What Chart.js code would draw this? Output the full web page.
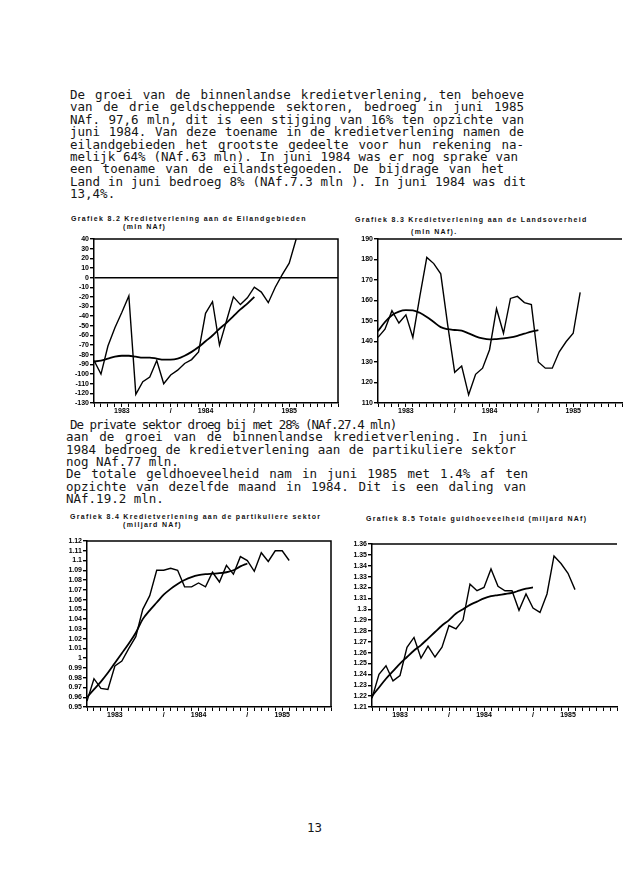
<!DOCTYPE html>
<html>
<head>
<meta charset="utf-8">
<script src="https://cdn.jsdelivr.net/npm/chart.js@4.4.0/dist/chart.umd.min.js"></script>
<style>
  html, body { margin: 0; padding: 0; background: #fff; }
  #page { position: relative; width: 630px; height: 880px; overflow: hidden; background: #fff; color: #161616; }
  .ln { position: absolute; font-family: 'DejaVu Sans Mono', monospace; font-size: 12.5px; line-height: 14px; white-space: pre; }
  .jf { white-space: nowrap; text-align: justify; text-align-last: justify; }
  .ttl { position: absolute; font-family: 'Liberation Sans', Arial, sans-serif; font-weight: bold; font-size: 7px; line-height: 8px; letter-spacing: 1.3px; white-space: pre; color: #111; }
  canvas { position: absolute; }
</style>
</head>
<body>
<div id="page">
  <!-- eerste alinea -->
  <div class="ln jf" style="left:70px;top:88px;width:454px">De groei van de binnenlandse kredietverlening, ten behoeve</div>
  <div class="ln jf" style="left:70px;top:100px;width:454px">van de drie geldscheppende sektoren, bedroeg in juni 1985</div>
  <div class="ln jf" style="left:70px;top:113px;width:454px">NAf. 97,6 mln, dit is een stijging van 16% ten opzichte van</div>
  <div class="ln jf" style="left:70px;top:125px;width:454px">juni 1984. Van deze toename in de kredietverlening namen de</div>
  <div class="ln jf" style="left:70px;top:138px;width:454px">eilandgebieden het grootste gedeelte voor hun rekening na-</div>
  <div class="ln jf" style="left:70px;top:150px;width:448px">melijk 64% (NAf.63 mln). In juni 1984 was er nog sprake van</div>
  <div class="ln jf" style="left:70px;top:162px;width:434px">een toename van de eilandstegoeden. De bijdrage van het</div>
  <div class="ln jf" style="left:70px;top:175px;width:456px">Land in juni bedroeg 8% (NAf.7.3 mln ). In juni 1984 was dit</div>
  <div class="ln" style="left:70px;top:187px">13,4%.</div>

  <!-- tweede alinea -->
  <div class="ln" style="left:70px;top:418px;letter-spacing:-1px">De private sektor droeg bij met 28% (NAf.27.4 mln)</div>
  <div class="ln jf" style="left:66px;top:430px;width:462px">aan de groei van de binnenlandse kredietverlening. In juni</div>
  <div class="ln jf" style="left:66px;top:443px;width:450px">1984 bedroeg de kredietverlening aan de partikuliere sektor</div>
  <div class="ln" style="left:66px;top:455px">nog NAf.77 mln.</div>
  <div class="ln jf" style="left:66px;top:467px;width:462px">De totale geldhoeveelheid nam in juni 1985 met 1.4% af ten</div>
  <div class="ln jf" style="left:66px;top:480px;width:460px">opzichte van dezelfde maand in 1984. Dit is een daling van</div>
  <div class="ln" style="left:66px;top:492px">NAf.19.2 mln.</div>

  <div class="ln" style="left:307px;top:821px">13</div>

  <!-- grafiektitels -->
  <div class="ttl" style="left:71px;top:215px">Grafiek 8.2 Kredietverlening aan de Eilandgebieden</div>
  <div class="ttl" style="left:123px;top:223px">(mln NAf)</div>
  <div class="ttl" style="left:355px;top:216px">Grafiek 8.3 Kredietverlening aan de Landsoverheid</div>
  <div class="ttl" style="left:411px;top:228px">(mln NAf).</div>
  <div class="ttl" style="left:70px;top:513px">Grafiek 8.4 Kredietverlening aan de partikuliere sektor</div>
  <div class="ttl" style="left:123px;top:521px">(miljard NAf)</div>
  <div class="ttl" style="left:366px;top:515px">Grafiek 8.5 Totale guldhoeveelheid (miljard NAf)</div>

  <canvas id="g82" width="290" height="185" style="left:55px;top:232px"></canvas>
  <canvas id="g83" width="290" height="185" style="left:340px;top:232px"></canvas>
  <canvas id="g84" width="290" height="188" style="left:50px;top:534px"></canvas>
  <canvas id="g85" width="295" height="185" style="left:335px;top:537px"></canvas>
</div>

<script>
// maanden op de x-as (jan 1983 - dec 1985)
const months = [
  'jan 1983','feb 1983','mrt 1983','apr 1983','mei 1983','jun 1983','jul 1983','aug 1983','sep 1983','okt 1983','nov 1983','dec 1983',
  'jan 1984','feb 1984','mrt 1984','apr 1984','mei 1984','jun 1984','jul 1984','aug 1984','sep 1984','okt 1984','nov 1984','dec 1984',
  'jan 1985','feb 1985','mrt 1985','apr 1985','mei 1985','jun 1985','jul 1985','aug 1985','sep 1985','okt 1985','nov 1985','dec 1985'
];
const yearTicks = [
  '', '', '', '', '1983', '', '', '', '', '', '', '/',
  '', '', '', '', '1984', '', '', '', '', '', '', '/',
  '', '', '', '', '1985', '', '', '', '', '', '', ''
];

// 8.2 Kredietverlening aan de Eilandgebieden (mln NAf)
const eilandMaand = [-86, -100, -71, -52, -36, -19, -121, -108, -103, -86, -110, -101, -96, -89, -85,
  -77, -37, -25, -70, -45, -20, -28, -21, -10, -15, -26, -10, 3, 15, 40];
const eilandTrend = [-87, -86, -84, -82, -81, -81, -82, -83, -83, -84, -85, -85, -84, -81, -77,
  -72, -66, -60, -53, -47, -40, -33, -27, -20];

// 8.3 Kredietverlening aan de Landsoverheid (mln NAf)
const landMaand = [142, 146, 155, 149, 153, 142, 162, 181, 178, 173, 148, 125, 128, 114, 124,
  127, 136, 156, 144, 161, 162, 159, 158, 130, 127, 127, 135, 140, 144, 164];
const landTrend = [145, 149.5, 152.8, 154.6, 155.3, 155.2, 154, 152, 149.5, 147, 146, 145.6, 145.3, 144, 142.5,
  141.5, 141, 141.2, 141.5, 142, 142.8, 143.8, 144.8, 145.5];

// 8.4 Kredietverlening aan de partikuliere sektor (miljard NAf)
const privMaand = [0.956, 0.979, 0.969, 0.968, 0.992, 0.997, 1.010, 1.022, 1.050, 1.064, 1.090, 1.090, 1.092, 1.090, 1.073,
  1.073, 1.077, 1.073, 1.088, 1.078, 1.095, 1.086, 1.104, 1.100, 1.089, 1.108, 1.099, 1.110, 1.110, 1.100];
const privTrend = [0.960, 0.968, 0.976, 0.985, 0.995, 1.005, 1.015, 1.026, 1.040, 1.049, 1.057, 1.065, 1.071, 1.076, 1.080,
  1.083, 1.085, 1.086, 1.0865, 1.087, 1.088, 1.090, 1.094, 1.097];

// 8.5 Totale geldhoeveelheid (miljard NAf)
const geldMaand = [1.218, 1.240, 1.248, 1.234, 1.239, 1.265, 1.274, 1.255, 1.266, 1.256, 1.265, 1.285, 1.282, 1.290, 1.323,
  1.317, 1.320, 1.337, 1.321, 1.317, 1.317, 1.299, 1.314, 1.301, 1.297, 1.314, 1.349, 1.342, 1.333, 1.318];
const geldTrend = [1.220, 1.228, 1.236, 1.243, 1.250, 1.256, 1.262, 1.267, 1.273, 1.279, 1.285, 1.290, 1.296, 1.300, 1.304,
  1.307, 1.310, 1.312, 1.313, 1.314, 1.315, 1.317, 1.319, 1.320];

const tickFont = { family: "'Liberation Sans', Arial, sans-serif", size: 7, weight: 'bold', lineHeight: 1 };

// kader rond het plotgebied (boven en rechts)
const framePlugin = {
  id: 'frame',
  afterDatasetsDraw(chart, args, opts) {
    const { ctx, chartArea: a } = chart;
    ctx.save();
    ctx.strokeStyle = '#000';
    ctx.lineWidth = 1.5;
    ctx.beginPath();
    ctx.moveTo(a.left, a.top);
    ctx.lineTo(a.right, a.top);
    if (opts.right) ctx.lineTo(a.right, a.bottom);
    ctx.stroke();
    ctx.restore();
  }
};

function makeChart(id, o) {
  return new Chart(document.getElementById(id), {
    type: 'line',
    data: {
      labels: months,
      datasets: [
        { data: o.maand, borderColor: '#000', borderWidth: 1.4, pointRadius: 0, tension: 0, fill: false },
        { data: o.trend, borderColor: '#000', borderWidth: 1.8, pointRadius: 0, cubicInterpolationMode: 'monotone', fill: false }
      ]
    },
    options: {
      responsive: false,
      animation: false,
      devicePixelRatio: 1,
      layout: { padding: { left: 0, top: 7, right: o.padRight, bottom: 0 } },
      plugins: {
        legend: { display: false },
        tooltip: { enabled: false },
        frame: { right: o.frameRight }
      },
      scales: {
        x: {
          offset: false,
          grid: { drawOnChartArea: false, tickLength: 4, color: '#000', lineWidth: 1 },
          border: { color: '#000', width: 1.5 },
          ticks: {
            autoSkip: false, maxRotation: 0, minRotation: 0, padding: 1, color: '#000', font: tickFont,
            callback: (v, i) => yearTicks[i]
          },
          afterFit: s => { s.height = o.xHeight; }
        },
        y: {
          min: o.min, max: o.max,
          grid: {
            drawOnChartArea: !!o.zeroLine,
            color: c => (o.zeroLine && c.tick && c.tick.value === 0) ? '#000' : 'rgba(0,0,0,0)',
            tickColor: '#000', tickLength: 4, lineWidth: 1.4
          },
          border: { color: '#000', width: 1.5 },
          ticks: {
            stepSize: o.step, autoSkip: false, padding: 1, color: '#000', font: tickFont,
            callback: v => String(+v.toFixed(2))
          },
          afterFit: s => { s.width = o.yWidth; }
        }
      }
    },
    plugins: [framePlugin]
  });
}

makeChart('g82', { maand: eilandMaand, trend: eilandTrend, min: -130, max: 40, step: 10,
  yWidth: 39, xHeight: 14, padRight: 7, zeroLine: true, frameRight: true });
makeChart('g83', { maand: landMaand, trend: landTrend, min: 110, max: 190, step: 10,
  yWidth: 38, xHeight: 14, padRight: 8, frameRight: false });
makeChart('g84', { maand: privMaand, trend: privTrend, min: 0.95, max: 1.12, step: 0.01,
  yWidth: 37, xHeight: 15, padRight: 9, frameRight: true });
makeChart('g85', { maand: geldMaand, trend: geldTrend, min: 1.21, max: 1.36, step: 0.01,
  yWidth: 37, xHeight: 15, padRight: 13, frameRight: false });
</script>
</body>
</html>
